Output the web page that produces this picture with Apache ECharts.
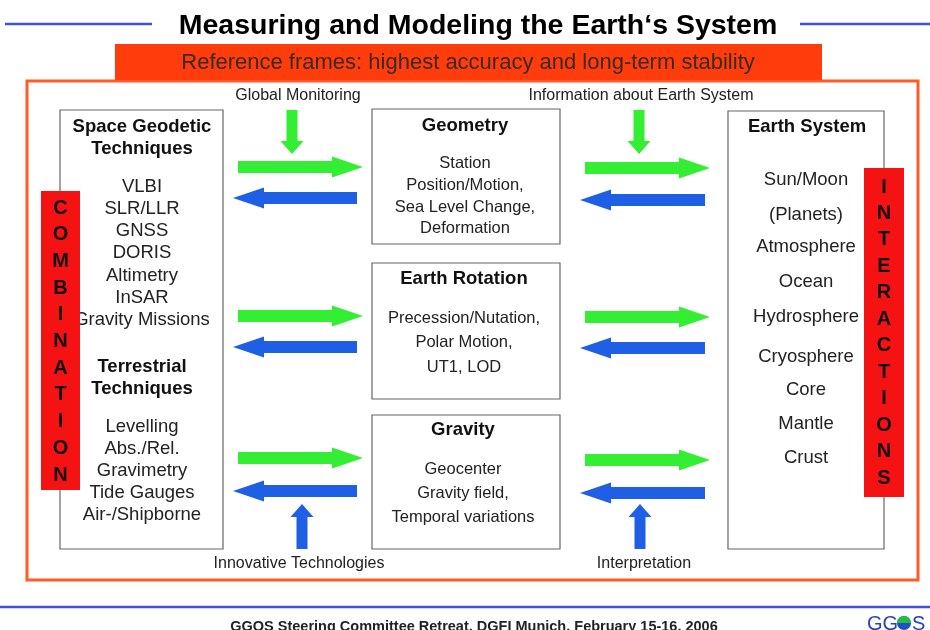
<!DOCTYPE html>
<html><head><meta charset="utf-8">
<script src="https://cdn.jsdelivr.net/npm/echarts@6/dist/echarts.min.js"></script>
<style>html,body{margin:0;padding:0;background:#fff}#c{width:930px;height:630px}</style>
</head><body><div id="c"></div>
<script>
// ---- diagram content (positions, in page units) ----
const titleText = 'Measuring and Modeling the Earth\u2018s System';
const bannerText = 'Reference frames: highest accuracy and long-term stability';
const footerText = 'GGOS Steering Committee Retreat, DGFI Munich, February 15-16, 2006';

// [x0, y0, x1, y1]
const titleLines = [[5, 24, 152, 24], [800, 24, 930, 24], [0, 607, 930, 607]];
const banner = [[115, 44, 822, 80]];
const frame = [[27, 81, 918, 580]];
const boxes = [[60, 110, 223, 549], [372, 109, 560, 244], [372, 263, 560, 399], [372, 415, 560, 549], [728, 111, 884, 549]];
// [x0, y0, x1, y1, firstLetterY, lastLetterY, word]
const redBars = [[41, 191, 80, 490, 208, 475, 'COMBINATION'], [864, 168, 904, 497, 187, 478, 'INTERACTIONS']];

// horizontal arrows [tailX, tipX, y]  (rightwards = green, leftwards = blue)
const hArrows = [
  [238, 363, 167], [357, 233, 198], [238, 363, 316], [357, 233, 347], [238, 363, 458], [357, 233, 491],
  [585, 710, 168], [705, 580, 200], [585, 710, 317], [705, 580, 348], [585, 710, 460], [705, 580, 493]
];
// vertical arrows [x, tailY, tipY]  (downwards = green, upwards = blue)
const vArrows = [[292, 110, 154], [639, 110, 154], [302, 549, 504], [640, 549, 504]];

// headings [x, y, text]
const headings = [
  [142, 127, 'Space Geodetic'], [142, 149, 'Techniques'], [142, 367, 'Terrestrial'], [142, 389, 'Techniques'],
  [465, 126, 'Geometry'], [464, 279, 'Earth Rotation'], [463, 430, 'Gravity'], [807, 127, 'Earth System']
];
// list items [x, y, text]
const items = [
  [142, 187, 'VLBI'], [142, 209, 'SLR/LLR'], [142, 231, 'GNSS'], [142, 253, 'DORIS'], [142, 276, 'Altimetry'],
  [142, 298, 'InSAR'], [142, 320, 'Gravity Missions'],
  [142, 427, 'Levelling'], [142, 449, 'Abs./Rel.'], [142, 471, 'Gravimetry'], [142, 493, 'Tide Gauges'], [142, 515, 'Air-/Shipborne'],
  [806, 180, 'Sun/Moon'], [806, 215, '(Planets)'], [806, 247, 'Atmosphere'], [806, 282, 'Ocean'], [806, 317, 'Hydrosphere'],
  [806, 357, 'Cryosphere'], [806, 390, 'Core'], [806, 424, 'Mantle'], [806, 458, 'Crust']
];
// box details [x, y, text]
const details = [
  [465, 163, 'Station'], [465, 185, 'Position/Motion,'], [465, 207, 'Sea Level Change,'], [465, 228, 'Deformation'],
  [464, 318, 'Precession/Nutation,'], [464, 342, 'Polar Motion,'], [464, 367, 'UT1, LOD'],
  [463, 469, 'Geocenter'], [463, 493, 'Gravity field,'], [463, 517, 'Temporal variations']
];
// flow labels [x, y, text]
const labels = [[298, 96, 'Global Monitoring'], [641, 96, 'Information about Earth System'], [299, 564, 'Innovative Technologies'], [644, 564, 'Interpretation']];
const titlePos = [[478, 26]];
const bannerPos = [[468, 63]];
const footerPos = [[474, 627]];
const logoPos = [[867, 624]];

// ---- rendering ----
const FONT = '"Liberation Sans", Arial, sans-serif';
const GREEN = '#33ee33', BLUE = '#1f5fe6', RED = '#f41212', ORANGE = '#ff3c0c', FRAME = '#ff5a28', LINEBLUE = '#4050dc';

function rectOf(api, x0, y0, x1, y1) {
  const a = api.coord([x0, y0]), b = api.coord([x1, y1]);
  return { x: Math.min(a[0], b[0]), y: Math.min(a[1], b[1]), width: Math.abs(b[0] - a[0]), height: Math.abs(b[1] - a[1]) };
}
function textSeries(arr, size, weight, color, z) {
  return {
    type: 'custom', z: z, silent: true, data: arr.map(d => [d[0], d[1]]),
    renderItem: (p, api) => {
      const pt = api.coord([api.value(0), api.value(1)]);
      return { type: 'text', x: pt[0], y: pt[1], style: { text: arr[p.dataIndex][2], font: weight + ' ' + size + 'px ' + FONT, fill: color, align: 'center', verticalAlign: 'middle' } };
    }
  };
}
function rectSeries(arr, style, z) {
  return {
    type: 'custom', z: z, silent: true, data: arr,
    renderItem: (p, api) => ({ type: 'rect', shape: rectOf(api, api.value(0), api.value(1), api.value(2), api.value(3)), style: style })
  };
}

const series = [
  { // title lines
    type: 'custom', z: 1, silent: true, data: titleLines,
    renderItem: (p, api) => {
      const a = api.coord([api.value(0), api.value(1)]), b = api.coord([api.value(2), api.value(3)]);
      return { type: 'line', shape: { x1: a[0], y1: a[1], x2: b[0], y2: b[1] }, style: { stroke: LINEBLUE, lineWidth: 2.5 } };
    }
  },
  rectSeries(frame, { fill: 'none', stroke: FRAME, lineWidth: 3 }, 2),
  rectSeries(banner, { fill: ORANGE }, 3),
  rectSeries(boxes, { fill: '#fff', stroke: '#666', lineWidth: 1.2 }, 4),
  { // horizontal arrows
    type: 'custom', z: 5, silent: true, data: hArrows,
    renderItem: (p, api) => {
      const t = api.coord([api.value(0), api.value(2)]), h = api.coord([api.value(1), api.value(2)]);
      const dir = h[0] > t[0] ? 1 : -1, hl = 31, sh = 6, hh = 10.5, y = t[1], hx = h[0] - dir * hl;
      return { type: 'polygon', shape: { points: [[t[0], y - sh], [hx, y - sh], [hx, y - hh], [h[0], y], [hx, y + hh], [hx, y + sh], [t[0], y + sh]] },
        style: { fill: dir > 0 ? GREEN : BLUE } };
    }
  },
  { // vertical arrows
    type: 'custom', z: 5, silent: true, data: vArrows,
    renderItem: (p, api) => {
      const t = api.coord([api.value(0), api.value(1)]), h = api.coord([api.value(0), api.value(2)]);
      const dir = h[1] > t[1] ? 1 : -1, hl = 13, sw = 5.5, hw = 11.5, x = t[0], hy = h[1] - dir * hl;
      return { type: 'polygon', shape: { points: [[x - sw, t[1]], [x - sw, hy], [x - hw, hy], [x, h[1]], [x + hw, hy], [x + sw, hy], [x + sw, t[1]]] },
        style: { fill: dir > 0 ? GREEN : BLUE } };
    }
  },
  textSeries(headings, 18.5, 'bold', '#111', 6),
  textSeries(items, 18.5, 'normal', '#222', 6),
  textSeries(details, 16.5, 'normal', '#222', 6),
  textSeries(labels, 16, 'normal', '#222', 6),
  textSeries(titlePos.map(d => [d[0], d[1], titleText]), 28.5, 'bold', '#000', 6),
  textSeries(bannerPos.map(d => [d[0], d[1], bannerText]), 22, 'normal', '#3a2a22', 6),
  textSeries(footerPos.map(d => [d[0], d[1], footerText]), 14.5, 'bold', '#222', 6),
  { // red vertical bars with letters
    type: 'custom', z: 7, silent: true, data: redBars.map(d => d.slice(0, 6)),
    renderItem: (p, api) => {
      const word = redBars[p.dataIndex][6];
      const r = rectOf(api, api.value(0), api.value(1), api.value(2), api.value(3));
      const cx = r.x + r.width / 2;
      const ya = api.coord([0, api.value(4)])[1], yb = api.coord([0, api.value(5)])[1];
      const step = (yb - ya) / (word.length - 1);
      const children = [{ type: 'rect', shape: r, style: { fill: RED } }];
      for (let i = 0; i < word.length; i++) {
        children.push({ type: 'text', x: cx, y: ya + i * step, style: { text: word[i], font: 'bold 20px ' + FONT, fill: '#111', align: 'center', verticalAlign: 'middle' } });
      }
      return { type: 'group', children: children };
    }
  },
  { // GGOS logo
    type: 'custom', z: 7, silent: true, data: logoPos,
    renderItem: (p, api) => {
      const pt = api.coord([api.value(0), api.value(1)]);
      return { type: 'group', children: [
        { type: 'text', x: pt[0], y: pt[1], style: { text: 'GG', font: '20px ' + FONT, fill: '#2a3fc0', align: 'left', verticalAlign: 'middle' } },
        { type: 'circle', shape: { cx: pt[0] + 37, cy: pt[1] - 1, r: 7 }, style: { fill: '#1f4fd0' } },
        { type: 'sector', shape: { cx: pt[0] + 37, cy: pt[1] - 1, r: 7, startAngle: Math.PI, endAngle: 2 * Math.PI }, style: { fill: '#22c040' } },
        { type: 'text', x: pt[0] + 45, y: pt[1], style: { text: 'S', font: '20px ' + FONT, fill: '#2a3fc0', align: 'left', verticalAlign: 'middle' } }
      ] };
    }
  }
];

const chart = echarts.init(document.getElementById('c'), null, { renderer: 'canvas' });
chart.setOption({
  backgroundColor: '#fff',
  animation: false,
  grid: { left: 0, right: 0, top: 0, bottom: 0 },
  xAxis: { type: 'value', min: 0, max: 930, show: false },
  yAxis: { type: 'value', min: 0, max: 630, inverse: true, show: false },
  series: series
});
</script>
</body></html>
